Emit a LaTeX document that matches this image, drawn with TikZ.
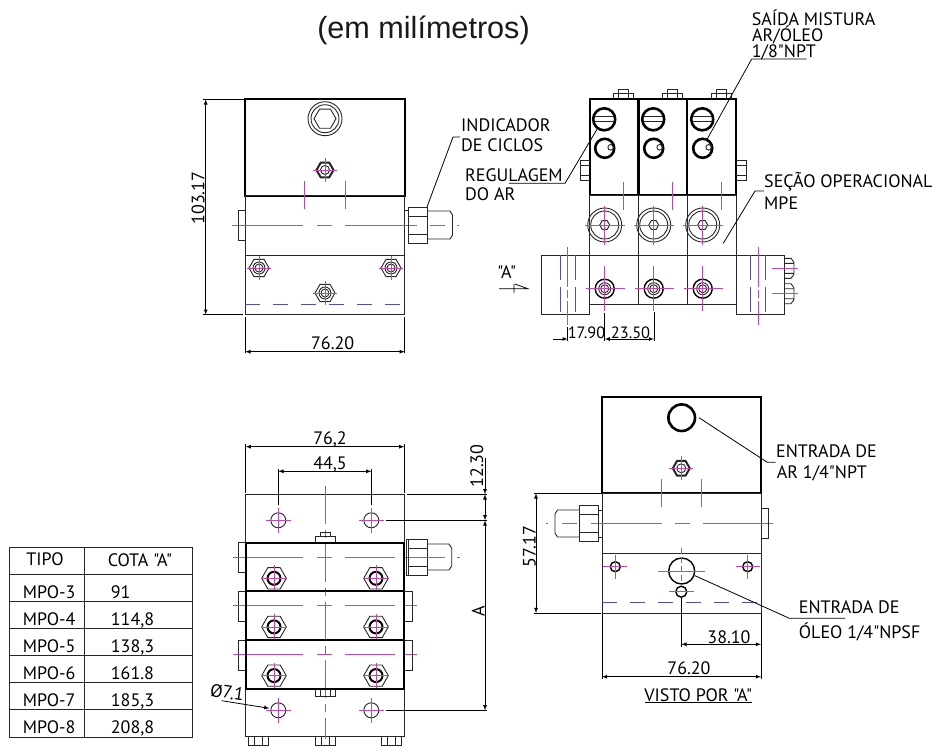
\documentclass[tikz,border=0pt]{standalone}
\usepackage{fontspec}
\usepackage{tikz}
\newfontfamily\drawfont{PT Sans}
\newfontfamily\titlefont{Liberation Sans}
\definecolor{axiscolor}{RGB}{195,70,170}
\definecolor{hiddencolor}{RGB}{85,75,185}
\newcommand{\hexagon}[4][]{\draw[body,#1] (#2,#3) +(0:#4) -- +(60:#4) -- +(120:#4) -- +(180:#4) -- +(240:#4) -- +(300:#4) -- cycle;}
\newcommand{\cross}[4][]{\draw[axis,#1] (#2-#4,#3) -- (#2+#4,#3) (#2,#3-#4) -- (#2,#3+#4);}
\newcommand{\nutsmall}[3]{\hexagon[line width=2pt]{#1}{#2}{8.5}\draw[body] (#1,#2) circle (4.5);\cross{#1}{#2}{#3}}
\begin{document}
\begin{tikzpicture}[x=1pt,y=-1pt]
\tikzstyle{body}=[line width=0.9pt, draw=black!85]
\tikzstyle{heavy}=[line width=2pt, draw=black]
\tikzstyle{axis}=[line width=0.65pt, draw=axiscolor]
\tikzstyle{hidden}=[line width=0.7pt, draw=hiddencolor, dash pattern=on 15pt off 13pt]
\tikzstyle{ext}=[line width=0.8pt, draw=black]
\tikzstyle{dim}=[ext, latex-latex]
\tikzstyle{tag}=[font=\drawfont\fontsize{18}{18}\selectfont, inner sep=0pt, text=black, text height=12.6pt, text depth=0pt]
\tikzstyle{note}=[tag, anchor=west]
\tikzstyle{tight}=[tag, font=\drawfont\fontsize{16.4}{18}\selectfont]
\useasboundingbox (0,0) rectangle (932,747);
\fill[white] (0,0) rectangle (932,747);
\node[font=\titlefont\fontsize{30.6}{32}\selectfont, text=black!90, inner sep=0pt] (Title) at (423.5,30) {(em milímetros)};

\draw[heavy] (245.3,99.3) rectangle (404.7,195.7);
\draw[body] (245.3,195.7) rectangle (404.7,314.7) (245.3,255) -- (404.7,255);
\draw[hidden] (245.3,304.3) -- (404.7,304.3);
\draw[body] (325,118.7) circle (17) circle (14);
\hexagon{325}{118.7}{11}
\nutsmall{325}{170}{12}
\foreach \x in {304.7,345.3} \draw[axis] (\x,181) -- (\x,209);
\foreach \xa/\xb in {232/303,317/332,345/417,430/445,457/459} \draw[axis] (\xa,225.3) -- (\xb,225.3);
\foreach \x/\y in {259/268,391/268,325/293} {\hexagon{\x}{\y}{10}\draw[body] (\x,\y) circle (6) circle (4);\cross{\x}{\y}{12}}
\draw[body] (245.3,210) -- (238,210) -- (238,240) -- (245.3,240);
\draw[body] (404.7,210) -- (408.3,210) -- (408.3,243) (408.3,207) rectangle (427,243) (408.3,216) -- (427,216) (408.3,234) -- (427,234);
\draw[body] (427,211) -- (450,211) -- (452.5,215) -- (452.5,235) -- (450,239) -- (427,239);
\draw[ext] (203,99.3) -- (245,99.3) (203,314.7) -- (243,314.7);
\draw[dim] (205.7,99.3) -- (205.7,314.7);
\node[tag, rotate=90] (HeightTop) at (198,198) {103.17};
\draw[ext] (245.3,317) -- (245.3,353) (404.7,317) -- (404.7,353);
\draw[dim] (245.3,351.7) -- (404.7,351.7);
\node[tag] (WidthTop) at (332.7,343) {76.20};
\node[note] (Indicador) at (461,125) {INDICADOR};
\node[note] (Ciclos) at (461,145) {DE CICLOS};
\draw[ext] (427,207) -- (453,137) -- (460,137);

\foreach \x in {589.7,638.3,687.3} \draw[heavy] (\x,99) rectangle (\x+49,195.3);
\draw[body] (589.7,195.3) rectangle (736.3,304.3) (589.7,255) -- (736.3,255) (638.3,195.3) -- (638.3,304.3) (687.3,195.3) -- (687.3,304.3);
\draw[body] (589.7,255) -- (541.7,255) -- (541.7,314.7) -- (589.7,314.7) -- (589.7,304.3);
\draw[body] (736.3,255) -- (784,255) -- (784,314.7) -- (736.3,314.7) -- (736.3,304.3);
\foreach \x in {604.7,653.7,702.7} {
  \draw[line width=2.6pt] (\x-0.5,119.3) circle (11);
  \draw[body] (\x-10,116.7) -- (\x+9,116.7) (\x-10,121.7) -- (\x+9,121.7);
  \draw[line width=2.6pt] (\x,148.3) circle (9.5);
  \draw[body] (\x+6,147.3) circle (2.8);
  \draw[body] (\x+9,99) -- (\x+9,93.3) -- (\x+29,93.3) -- (\x+29,99) (\x+14,93.3) -- (\x+14,89.3) -- (\x+24,89.3) -- (\x+24,93.3) (\x+14,93.3) -- (\x+14,99) (\x+24,93.3) -- (\x+24,99);
  \draw[axis] (\x+19,181.7) -- (\x+19,210);
  \draw[body] (\x,225) circle (17) circle (14);
  \hexagon{\x}{225}{5}
  \draw[axis] (\x-20,225) -- (\x+20,225) (\x,205.5) -- (\x,244.5);
  \draw[line width=1.4pt] (\x,288.7) circle (9.5);
  \draw[body] (\x,288.7) circle (6) circle (4);
  \draw[axis] (\x,266) -- (\x,311);
  \draw[axis] (\x-19,288.7) -- (\x+20,288.7);
}
\draw[body] (589.7,160) -- (580,160) -- (580,180) -- (589.7,180) (580,165) -- (589.7,165) (580,175) -- (589.7,175);
\draw[body] (736.3,160) -- (746,160) -- (746,180) -- (736.3,180) (736.3,165) -- (746,165) (736.3,175) -- (746,175);
\foreach \x in {560,575,750.7,765.7} \draw[hidden, dash pattern=on 25pt off 7pt] (\x,255) -- (\x,315);
\foreach \x in {567.7,758.3} \draw[axis, dash pattern=on 40pt off 3pt on 8pt off 3pt] (\x,246.7) -- (\x,325);
\foreach \y in {268.3,293.7} {
  \draw[body] (784,\y-10) -- (791,\y-10) -- (794,\y-6) -- (794,\y+6) -- (791,\y+10) -- (784,\y+10) (784,\y-5) -- (794,\y-5) (784,\y+5) -- (794,\y+5);
  \draw[axis] (771.7,\y) -- (798,\y);
}
\node[tag] (ViewMark) at (506.7,271.7) {"A"};
\draw[ext] (499,288.7) -- (527.7,288.7) -- (515,284) (514,284) -- (514,293);
\draw[ext] (567.7,327) -- (567.7,341) (604.7,313) -- (604.7,341) (654,312) -- (654,341);
\draw[ext, -latex] (553.3,339) -- (567.7,339);
\draw[dim] (604.7,339) -- (654,339);
\node[tight] (PitchLeft) at (586.5,331.7) {17.90};
\node[tight] (PitchRight) at (630.5,331.7) {23.50};
\node[note] (Regulagem) at (465,175) {REGULAGEM};
\node[note] (DoAr) at (465,194) {DO AR};
\draw[ext] (509,183.3) -- (565,183.3) -- (597,129.3);
\node[note] (Saida) at (751.7,19) {SAÍDA MISTURA};
\node[note] (ArOleo) at (752,35) {AR/ÓLEO};
\node[note] (Npt) at (751.7,51) {1/8"NPT};
\draw[ext] (806.7,59) -- (751.7,59) -- (706.7,140);
\node[note] (Secao) at (764,180.7) {SEÇÃO OPERACIONAL};
\node[note] (Mpe) at (764,202.7) {MPE};
\draw[ext] (764,191) -- (755,191) -- (723.3,243.3);

\draw[body] (9,547.3) rectangle (192.3,737) (84.3,547.3) -- (84.3,737);
\foreach \y in {574.3,601.3,628.3,655.7,682.7,709.7} \draw[body] (9,\y) -- (192.3,\y);
\node[tag] (TipoHead) at (45,558.7) {TIPO};
\node[tag] (CotaHead) at (140,560) {COTA "A"};
\foreach \k/\y/\v in {3/592/91,4/619/{114,8},5/646/{138,3},6/673/161.8,7/700/{185,3},8/727/{208,8}} {
  \node[note] (Tipo\k) at (22.7,\y) {MPO-\k};
  \node[note] (Cota\k) at (110.7,\y) {\v};
}

\draw[body] (245.7,494.3) rectangle (404.3,736.7);
\foreach \x/\y in {278.3/520.3,371.3/520.3,278.3/710.3,371.3/710.3} {\draw[body] (\x,\y) circle (7.5);\cross{\x}{\y}{12.7}}
\draw[axis, dash pattern=on 38pt off 6pt on 8pt off 6pt] (325,486) -- (325,739);
\draw[body] (315,542.7) -- (315,536) -- (335,536) -- (335,542.7) (320,536) -- (320,532.5) -- (330,532.5) -- (330,536);
\draw[body] (315,688.7) -- (315,696) -- (335,696) -- (335,688.7) (320,688.7) -- (320,696) (330,688.7) -- (330,696);
\foreach \x in {258.3,325,391.7} \draw[body] (\x-10,736.7) -- (\x-10,745.5) -- (\x+10,745.5) -- (\x+10,736.7) (\x-4,736.7) -- (\x-4,745.5) (\x+4,736.7) -- (\x+4,745.5);
\foreach \y in {542.7,591.3,640} {
  \draw[body] (245.7,\y) -- (238,\y) -- (238,\y+30) -- (245.7,\y+30);
  \foreach \xa/\xb in {232.7/303,317/332,345/395,403/417} \draw[axis] (\xa,\y+14.3) -- (\xb,\y+14.3);
  \foreach \x in {274,376} {\hexagon{\x}{\y+35.6}{12.3}\draw[line width=2pt] (\x,\y+35.6) circle (6.5);\cross{\x}{\y+35.6}{13}}
  \draw[heavy] (245.7,\y) rectangle (404.3,\y+48.7);
}
\foreach \y in {591.3,640} \draw[body] (404.3,\y) -- (412.3,\y) -- (412.3,\y+30) -- (404.3,\y+30);
\draw[body] (406,539.3) rectangle (427,575) (408.3,539.3) -- (408.3,575) (408.3,548) -- (427,548) (408.3,566) -- (427,566);
\draw[body] (427,544) -- (449,544) -- (451.7,548) -- (451.7,566) -- (449,570) -- (427,570);
\foreach \xa/\xb in {417/445,457/460} \draw[axis] (\xa,557) -- (\xb,557);
\draw[ext] (245.7,444) -- (245.7,493) (404.3,444) -- (404.3,493) (278.3,469.3) -- (278.3,505) (371.3,469.3) -- (371.3,505);
\draw[dim] (245.7,446.7) -- (404.3,446.7);
\draw[dim] (278.3,471.3) -- (371.3,471.3);
\node[tag] (WidthPlate) at (330,438.3) {76,2};
\node[tag] (PitchPlate) at (330,462.7) {44,5};
\draw[ext] (406.7,494.3) -- (487.3,494.3) (386,520.3) -- (487.3,520.3) (386,710.3) -- (487.3,710.3);
\draw[ext, -latex] (485,458) -- (485,494.3);
\draw[dim] (485,494.3) -- (485,520.3);
\draw[dim] (485,520.3) -- (485,710.3);
\node[tag, rotate=90] (Margin) at (476.7,466) {12.30};
\node[tag, rotate=90] (CotaA) at (478.3,611.7) {A};
\node[tag, rotate=-8] (Diameter) at (227.3,692.3) {Ø7.1};
\draw[ext, -latex] (221.7,700.7) -- (269.3,708.3);

\draw[heavy] (602,397.3) rectangle (761,493.3);
\draw[body] (602,493.3) rectangle (761,613) (602,553.3) -- (761,553.3);
\draw[hidden] (602,602) -- (761,602);
\draw[line width=2.6pt] (681.7,417.7) circle (13.3);
\nutsmall{681.3}{468.3}{12}
\foreach \x in {661.3,701.7} \draw[axis] (\x,478.7) -- (\x,507.3);
\foreach \xa/\xb in {546/548,561.7/576.7,591/661.7,675/690,703/773} \draw[axis] (\xa,523) -- (\xb,523);
\draw[body] (602,510) -- (598.3,510) (598.3,505.3) rectangle (579.7,541.7) (598.3,537) -- (602,537) (598.3,514) -- (579.7,514) (598.3,532) -- (579.7,532);
\draw[body] (579.7,510) -- (557.5,510) -- (555,514) -- (555,533) -- (557.5,537) -- (579.7,537);
\draw[body] (761,508.3) -- (768.7,508.3) -- (768.7,538.3) -- (761,538.3);
\foreach \x in {615.3,747.7} {\draw[line width=1.4pt] (\x,566.7) circle (5);\cross{\x}{566.7}{12}}
\draw[line width=1.4pt] (681.7,571) circle (13);
\draw[axis] (658,571) -- (705,571);
\draw[axis, dash pattern=on 6pt off 3pt] (681.7,548) -- (681.7,585);
\draw[line width=1.4pt] (681.3,591.7) circle (5.5);
\draw[axis] (669,591.7) -- (694,591.7);
\draw[ext] (681.3,598) -- (681.3,646.7) (761,613) -- (761,679) (602,613) -- (602,679);
\draw[dim] (681.3,644.3) -- (761,644.3);
\draw[dim] (602,676.7) -- (761,676.7);
\node[tag] (Offset) at (729,637.3) {38.10};
\node[tag] (WidthSide) at (689,668.3) {76.20};
\node[tag] (Visto) at (698.3,695) {VISTO POR "A"};
\draw[ext] (645,702.3) -- (751.7,702.3);
\draw[ext] (534,493.3) -- (601,493.3) (534,613) -- (601,613);
\draw[dim] (536,493.3) -- (536,613);
\node[tag, rotate=90] (HeightSide) at (529.3,546.7) {57.17};
\node[note] (EntradaAr) at (776,451) {ENTRADA DE};
\node[note] (Ar) at (776.7,472) {AR 1/4"NPT};
\draw[ext] (699,417.7) -- (767.3,462.3) -- (775.7,462.3);
\node[note] (EntradaOleo) at (798.7,606.7) {ENTRADA DE};
\node[note] (Oleo) at (798.7,632.3) {ÓLEO 1/4"NPSF};
\draw[ext] (695,575.7) -- (789.3,618.3) -- (845,618.3);
\end{tikzpicture}
\end{document}
